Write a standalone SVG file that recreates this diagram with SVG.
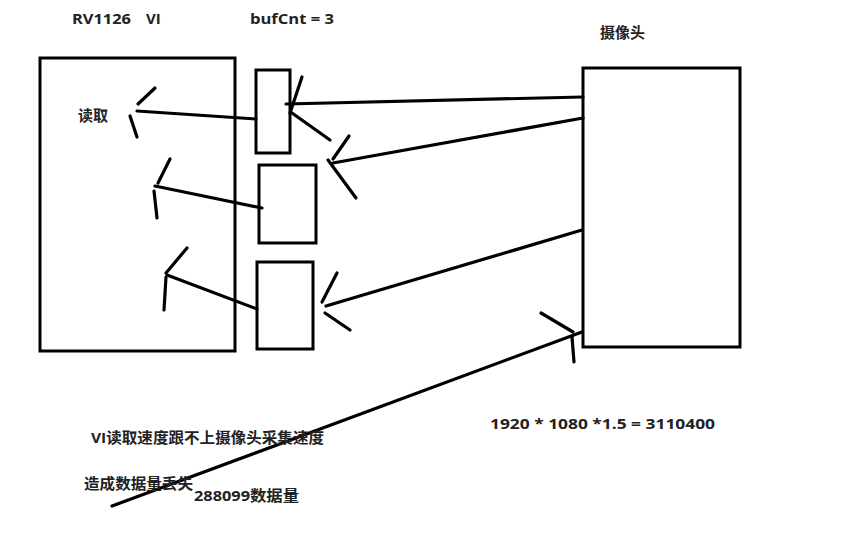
<svg xmlns="http://www.w3.org/2000/svg" width="866" height="544" viewBox="0 0 866 544">
<style>
.box{fill:#fff;stroke:#000;stroke-width:3}
.ln{stroke:#000;stroke-width:3.2;stroke-linecap:round;fill:none}
.t{font-family:"Open Sans","Noto Sans CJK SC",sans-serif;font-weight:bold;font-size:15px;fill:#222}
</style>
<rect width="866" height="544" fill="#fff"/>
<g id="labels">
<text class="t" x="72" y="24" font-size="17" textLength="59" lengthAdjust="spacingAndGlyphs">RV1126</text>
<text class="t" x="146" y="24" font-size="17">VI</text>
<text class="t" x="250" y="24" font-size="17" textLength="84" lengthAdjust="spacingAndGlyphs">bufCnt = 3</text>
</g>
<g id="vi">
<rect class="box" x="40" y="58" width="195" height="293"/>
<text class="t" x="78" y="121">读取</text>
</g>
<g id="buf1"><rect class="box" x="256" y="70" width="34" height="83"/></g>
<g id="buf2"><rect class="box" x="259" y="165" width="57" height="78"/></g>
<g id="buf3"><rect class="box" x="257" y="262" width="56" height="87"/></g>
<g id="camera">
<rect class="box" x="583" y="68" width="157" height="279"/>
<text class="t" x="600" y="38">摄像头</text>
</g>
<g id="connectors">
<line class="ln" x1="583" y1="97" x2="286" y2="104"/>
<line class="ln" x1="290" y1="113" x2="302" y2="77"/>
<line class="ln" x1="292" y1="113" x2="330" y2="140"/>
<line class="ln" x1="583" y1="118" x2="333" y2="163"/>
<line class="ln" x1="349" y1="136" x2="333" y2="159"/>
<line class="ln" x1="328" y1="160" x2="356" y2="198"/>
<line class="ln" x1="582" y1="230" x2="326" y2="306"/>
<line class="ln" x1="337" y1="273" x2="322" y2="302"/>
<line class="ln" x1="325" y1="313" x2="350" y2="330"/>
<line class="ln" x1="256" y1="119" x2="137" y2="111"/>
<line class="ln" x1="138" y1="104" x2="155" y2="88"/>
<line class="ln" x1="130" y1="116" x2="137" y2="137"/>
<line class="ln" x1="262" y1="208" x2="155" y2="186"/>
<line class="ln" x1="158" y1="183" x2="170" y2="159"/>
<line class="ln" x1="154" y1="191" x2="157" y2="218"/>
<line class="ln" x1="257" y1="309" x2="167" y2="275"/>
<line class="ln" x1="166" y1="273" x2="187" y2="248"/>
<line class="ln" x1="166" y1="277" x2="164" y2="310"/>
<line class="ln" x1="582" y1="332" x2="112" y2="506"/>
<line class="ln" x1="541" y1="313" x2="573" y2="332"/>
<line class="ln" x1="572" y1="337" x2="574" y2="362"/>
</g>
<g id="notes">
<text class="t" x="91" y="443" textLength="233" lengthAdjust="spacingAndGlyphs">VI读取速度跟不上摄像头采集速度</text>
<text class="t" x="84" y="489" textLength="109" lengthAdjust="spacingAndGlyphs">造成数据量丢失</text>
<text class="t" x="194" y="501" textLength="105" lengthAdjust="spacingAndGlyphs">288099数据量</text>
<text class="t" x="490" y="429" font-size="17" textLength="225" lengthAdjust="spacingAndGlyphs">1920 * 1080 *1.5 = 3110400</text>
</g>
</svg>
